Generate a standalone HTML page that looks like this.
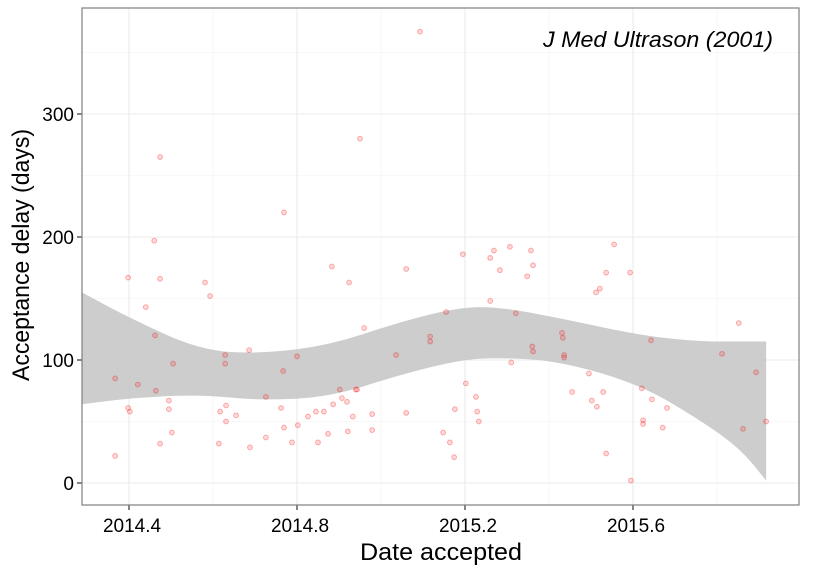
<!DOCTYPE html>
<html><head><meta charset="utf-8"><style>
body{margin:0;background:#fff;}
svg{font-family:"Liberation Sans",sans-serif;}
</style></head><body>
<svg id="chart" width="825" height="570"></svg>
<script>
const xTicks=[2014.4,2014.8,2015.2,2015.6];
const yTicks=[0,100,200,300];
const dates=[2014.367,2014.367,2014.398,2014.398,2014.402,2014.421,2014.440,2014.460,2014.462,2014.464,2014.474,2014.474,2014.474,2014.495,2014.495,2014.502,2014.505,2014.581,2014.593,2014.614,2014.617,2014.629,2014.629,2014.631,2014.631,2014.655,2014.686,2014.688,2014.726,2014.726,2014.762,2014.767,2014.769,2014.769,2014.788,2014.800,2014.802,2014.826,2014.845,2014.850,2014.864,2014.874,2014.883,2014.886,2014.902,2014.907,2014.919,2014.921,2014.924,2014.933,2014.950,2014.960,2014.979,2014.979,2014.940,2014.943,2015.036,2015.060,2015.060,2015.093,2015.117,2015.117,2015.148,2015.155,2015.164,2015.174,2015.176,2015.195,2015.202,2015.226,2015.229,2015.233,2015.260,2015.269,2015.260,2015.283,2015.307,2015.310,2015.321,2015.348,2015.357,2015.360,2015.362,2015.362,2015.431,2015.433,2015.436,2015.436,2015.455,2015.495,2015.502,2015.512,2015.521,2015.536,2015.514,2015.529,2015.536,2015.555,2015.593,2015.595,2015.621,2015.624,2015.624,2015.643,2015.645,2015.671,2015.681,2015.812,2015.852,2015.862,2015.893,2015.917];
const delays=[85,22,167,61,58,80,143,197,120,75,265,166,32,67,60,41,97,163,152,32,58,104,97,63,50,55,108,29,70,37,61,91,220,45,33,103,47,54,58,33,58,40,176,64,76,69,66,42,163,54,280,126,56,43,76,76,104,174,57,367,119,115,41,139,33,21,60,186,81,70,58,50,183,189,148,173,192,98,138,168,189,111,107,177,122,118,104,102,74,89,67,155,158,171,62,74,24,194,171,2,77,51,48,116,68,45,61,105,130,44,90,50];
const ribX=[2014.288,2014.402,2014.569,2014.712,2014.879,2015.045,2015.188,2015.283,2015.426,2015.617,2015.760,2015.855,2015.917];
const ribHi=[155,134,108,105,112,131,143,143,134,120,115,115,115];
const ribLo=[64,69,72,67,70,88,100,102,99,80,51,28,2];
const L=82,R=799,T=8,B=505;
const X=v=>129+(v-2014.4)*420;
const Y=v=>483-1.23*v;
const svg=document.getElementById('chart');
const NS='http://www.w3.org/2000/svg';
function mk(t,a,p){const e=document.createElementNS(NS,t);for(const k in a)e.setAttribute(k,a[k]);(p||svg).appendChild(e);return e;}
const bg=mk('rect',{x:L,y:T,width:R-L,height:B-T,fill:'#fff'});


[50,150,250,350].forEach(v=>{const g=mk('line',{x1:L,x2:R,y1:Y(v),y2:Y(v),stroke:'#f2f2f2','stroke-width':0.6});

});
[2014.6,2015.0,2015.4,2015.8].forEach(v=>{const g=mk('line',{x1:X(v),x2:X(v),y1:T,y2:B,stroke:'#f2f2f2','stroke-width':0.6});

});
yTicks.forEach(v=>{const g=mk('line',{x1:L,x2:R,y1:Y(v),y2:Y(v),stroke:'#ebebeb','stroke-width':1.1});


const tk=mk('line',{x1:L-5,x2:L,y1:Y(v),y2:Y(v),stroke:'#333','stroke-width':1.2});


const t=mk('text',{x:L-8,y:Y(v)+7,'text-anchor':'end','font-size':19,fill:'#000'});t.textContent=v;

});
xTicks.forEach(v=>{const g=mk('line',{x1:X(v),x2:X(v),y1:T,y2:B,stroke:'#ebebeb','stroke-width':1.1});


const tk=mk('line',{x1:X(v),x2:X(v),y1:B,y2:B+5,stroke:'#333','stroke-width':1.2});


const t=mk('text',{x:X(v)+3,y:B+27,'text-anchor':'middle','font-size':19,fill:'#000'});t.textContent=v.toFixed(1);

});
function smooth(xs,ys){let s='';for(let i=0;i<xs.length;i++){const px=X(xs[i]),py=Y(ys[i]);
if(i===0){s+='L'+px+','+py;continue;}
const qx=X(xs[i-1]),qy=Y(ys[i-1]);const mx=(px+qx)/2,my=(py+qy)/2;
s+='Q'+qx+','+qy+' '+mx+','+my;if(i===xs.length-1)s+='L'+px+','+py;}return s;}
const rx=[...ribX].reverse(),rl=[...ribLo].reverse();
let d='M'+X(ribX[0])+','+Y(ribHi[0])+smooth(ribX,ribHi).slice(1).replace(/^[^Q]*/,'')+'L'+X(rx[0])+','+Y(rl[0])+smooth(rx,rl)+'Z';
const rb=mk('path',{d:d,fill:'#c4c4c4','fill-opacity':0.85});


dates.forEach((v,i)=>{const c=mk('circle',{cx:X(v),cy:Y(delays[i]),r:2.4,fill:'rgba(255,0,0,0.15)',stroke:'rgba(240,0,0,0.3)','stroke-width':1});

});
const br=mk('rect',{x:L,y:T,width:R-L,height:B-T,fill:'none',stroke:'#7f7f7f','stroke-width':1.2});


const ti=mk('text',{x:543,y:47,'font-size':22,'font-style':'italic',fill:'#000',textLength:230,lengthAdjust:'spacingAndGlyphs'});ti.textContent='J Med Ultrason (2001)';


const xt=mk('text',{x:360,y:560,'font-size':24,fill:'#000',textLength:162,lengthAdjust:'spacingAndGlyphs'});xt.textContent='Date accepted';


const yt=mk('text',{x:-125,y:0,'font-size':24,fill:'#000',textLength:252,lengthAdjust:'spacingAndGlyphs',transform:'translate(29,256) rotate(-90)'});yt.textContent='Acceptance delay (days)';


</script>
</body></html>
